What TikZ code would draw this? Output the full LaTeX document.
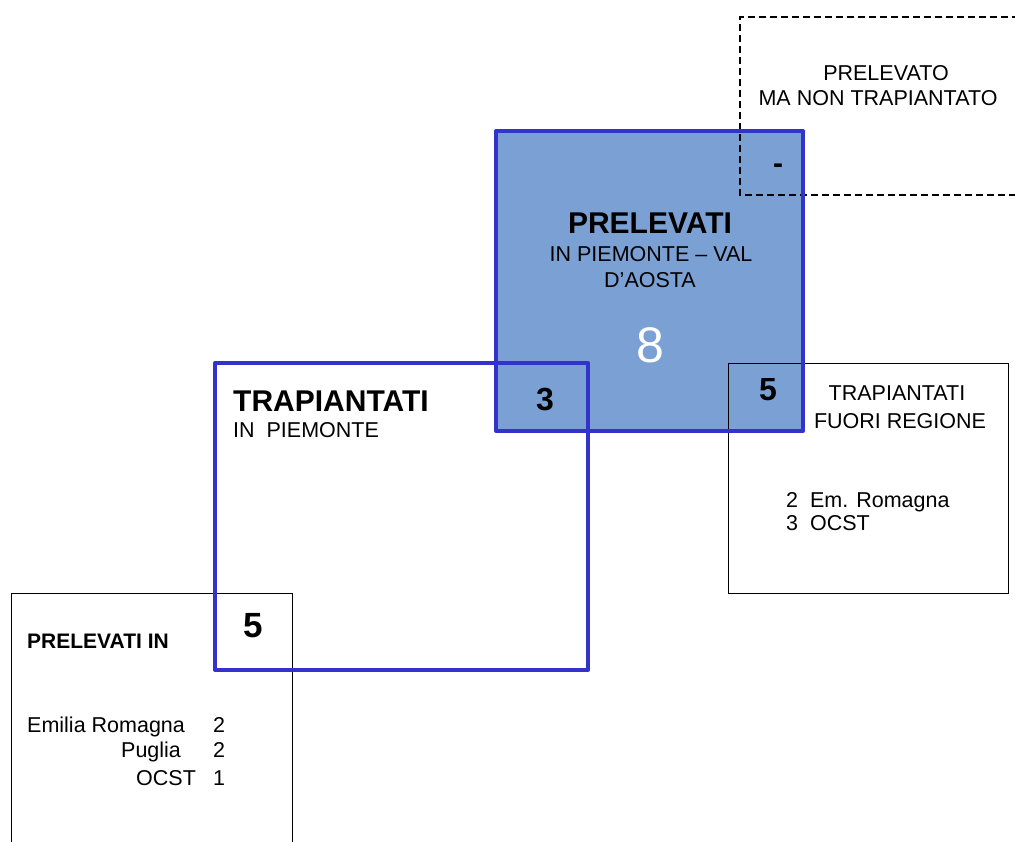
\documentclass[tikz,border=0pt]{standalone}
\usepackage{fontspec}
\setmainfont{Liberation Sans}
\usepackage{tikz, xcolor}

\definecolor{boxblue}{RGB}{51,51,204}
\definecolor{fillblue}{RGB}{123,161,212}

\begin{document}
\begin{tikzpicture}
	[
		x=1pt, y=-1pt,
		bluebox/.style={draw=boxblue, line width=4pt, line join=round},
		thinbox/.style={draw=black, line width=1pt},
		txt/.style={font=\fontsize{21.5}{25}\selectfont, inner sep=0pt},
		title/.style={font=\fontsize{30}{34}\selectfont\bfseries, inner sep=0pt},
		num/.style={font=\fontsize{32}{36}\selectfont\bfseries, inner sep=0pt}
	]

	\useasboundingbox (0,0) rectangle (1015,841);

	% Draw filled square.
	\fill[fillblue] (496,131) rectangle (803,431);

	% Draw boxes.
	\draw[thinbox] (728,363) rectangle (1008,593);
	\draw[thinbox] (11,860) -- (11,593) -- (292,593) -- (292,860);
	\draw[black, line width=2.5pt, dash pattern=on 7pt off 4pt] (1030,17) -- (740,17) -- (740,195) -- (1030,195);
	\draw[bluebox] (215,363) rectangle (588,670);
	\draw[bluebox] (496,131) rectangle (803,431);

	% Prelevati in Piemonte.
	\node[title, anchor=base] (prel) at (650,233) {PRELEVATI};
	\node[txt, anchor=base] (prelA) at (651,261) {IN PIEMONTE -- VAL};
	\node[txt, anchor=base] (prelB) at (650,287) {D'AOSTA};
	\node[white, inner sep=0pt, font=\fontsize{50}{54}\selectfont, anchor=base] (otto) at (650,362) {8};

	% Prelevato ma non trapiantato.
	\node[txt, anchor=base] (nontrA) at (886,80) {PRELEVATO};
	\node[txt, anchor=base] (nontrB) at (878,105) {MA NON TRAPIANTATO};
	\node[num, font=\fontsize{30}{34}\selectfont\bfseries, anchor=base] (meno) at (778,173) {-};

	% Trapiantati in Piemonte.
	\node[title, anchor=base west] (trap) at (233,411) {TRAPIANTATI};
	\node[txt, anchor=base west] (trapA) at (233,437) {IN~~PIEMONTE};
	\node[num, anchor=base] (tre) at (545,410) {3};

	% Trapiantati fuori regione.
	\node[num, anchor=base] (cinqueR) at (768,400) {5};
	\node[txt, anchor=base] (fuoriA) at (897,400) {TRAPIANTATI};
	\node[txt, anchor=base] (fuoriB) at (900,428) {FUORI REGIONE};
	\node[txt, anchor=base west] (emR) at (786,507) {2~~Em. Romagna};
	\node[txt, anchor=base west] (ocstR) at (786,530) {3~~OCST};

	% Prelevati in altre regioni.
	\node[num, font=\fontsize{35}{40}\selectfont\bfseries, anchor=base] (cinqueL) at (253,637) {5};
	\node[inner sep=0pt, font=\fontsize{21}{25}\selectfont\bfseries, anchor=base west] (prelIn) at (27,648) {PRELEVATI IN};
	\node[txt, anchor=base west] (emilia) at (27,732) {Emilia Romagna};
	\node[txt, anchor=base west] (puglia) at (121,757) {Puglia};
	\node[txt, anchor=base west] (ocstL) at (136,785) {OCST};
	\node[txt, anchor=base west] (nEm) at (213,732) {2};
	\node[txt, anchor=base west] (nPu) at (213,757) {2};
	\node[txt, anchor=base west] (nOc) at (213,785) {1};
\end{tikzpicture}
\end{document}
